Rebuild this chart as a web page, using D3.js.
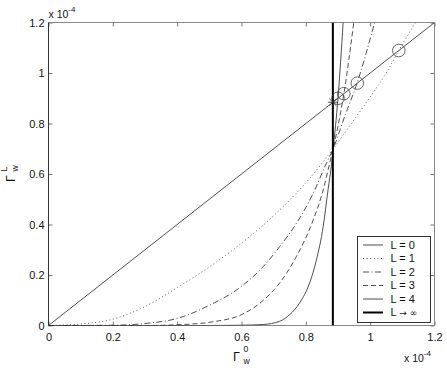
<!DOCTYPE html>
<html><head><meta charset="utf-8">
<script src="https://cdn.jsdelivr.net/npm/d3@7"></script>
<style>
html,body{margin:0;padding:0;background:#fff;}
svg{display:block;font-family:"Liberation Sans",Arial,Helvetica,sans-serif;}
</style></head>
<body><svg id="c" width="447" height="368"></svg>
<script>
// ---- data (units of 1e-4) ----
const xTicks = [0, 0.2, 0.4, 0.6, 0.8, 1, 1.2];
const yTicks = [0, 0.2, 0.4, 0.6, 0.8, 1, 1.2];
const fixedPoint = 0.884;
const l0X = [0, 1.2];
const l0Y = [0, 1.2];
const l1X = [0, 0.1, 0.2, 0.3, 0.4, 0.5, 0.6, 0.7, 0.8, 0.885, 0.95, 1.0, 1.05, 1.089, 1.141];
const l1Y = [0, 0.006, 0.025, 0.075, 0.15, 0.232, 0.326, 0.435, 0.565, 0.70, 0.815, 0.905, 1.0, 1.089, 1.2];
const l2X = [0, 0.2, 0.3, 0.4, 0.5, 0.6, 0.668, 0.719, 0.771, 0.823, 0.864, 0.885, 0.92, 0.96, 1.014];
const l2Y = [0, 0.001, 0.008, 0.028, 0.08, 0.155, 0.234, 0.313, 0.405, 0.524, 0.643, 0.70, 0.825, 0.963, 1.2];
const l3X = [0, 0.3, 0.4, 0.513, 0.6, 0.668, 0.719, 0.771, 0.823, 0.854, 0.874, 0.885, 0.9, 0.918, 0.949];
const l3Y = [0, 0, 0.003, 0.015, 0.043, 0.1, 0.169, 0.274, 0.418, 0.537, 0.642, 0.70, 0.79, 0.916, 1.2];
const l4X = [0, 0.5, 0.6, 0.668, 0.719, 0.75, 0.781, 0.812, 0.833, 0.854, 0.869, 0.88, 0.885, 0.90, 0.916];
const l4Y = [0, 0, 0.001, 0.004, 0.017, 0.043, 0.09, 0.169, 0.26, 0.392, 0.537, 0.64, 0.70, 0.90, 1.2];
const crossX = [1.089, 0.96, 0.918, 0.90];
const legendLabels = ["L = 0", "L = 1", "L = 2", "L = 3", "L = 4", "L \u2192 \u221e"];

// ---- layout ----
const svg = d3.select("#c");
const x = d3.scaleLinear().domain([0, 1.2]).range([48.5, 434.5]);
const y = d3.scaleLinear().domain([0, 1.2]).range([325.5, 22.5]);
const lineW = 0.8;

const styles = [
  {dash: null, w: lineW, c: "#222"},
  {dash: "1,2.6", w: lineW, c: "#333"},
  {dash: "6,2.5,1,2.5", w: lineW, c: "#222"},
  {dash: "5,3", w: lineW, c: "#222"},
  {dash: null, w: lineW, c: "#222"},
  {dash: null, w: 2, c: "#000"}
];

svg.append("clipPath").attr("id","pc").append("rect")
  .attr("x", x(0)).attr("y", y(1.2)).attr("width", x(1.2)-x(0)).attr("height", y(0)-y(1.2));

// axes
const fmt = d => d3.format("~g")(d);
const gB = svg.append("g").attr("transform", `translate(0,${y(0)})`)
  .call(d3.axisBottom(x).tickValues(xTicks).tickFormat(fmt).tickSizeInner(-4).tickSizeOuter(0).tickPadding(8));
const gT = svg.append("g").attr("transform", `translate(0,${y(1.2)})`)
  .call(d3.axisTop(x).tickValues(xTicks).tickFormat("").tickSizeInner(-4).tickSizeOuter(0));
const gL = svg.append("g").attr("transform", `translate(${x(0)},0)`)
  .call(d3.axisLeft(y).tickValues(yTicks).tickFormat(fmt).tickSizeInner(-4).tickSizeOuter(0).tickPadding(4));
const gR = svg.append("g").attr("transform", `translate(${x(1.2)},0)`)
  .call(d3.axisRight(y).tickValues(yTicks).tickFormat("").tickSizeInner(-4).tickSizeOuter(0));
[gB, gT, gL, gR].forEach(g => {
  g.select(".domain").remove();
  g.selectAll(".tick line").attr("stroke", "#777");
  g.selectAll("text").attr("font-size", 11).attr("fill", "#111").attr("font-family", "Liberation Sans, Arial, sans-serif");
});
gB.selectAll(".tick text").attr("y", 8);
// box
svg.append("line").attr("x1", x(0)).attr("x2", x(1.2)).attr("y1", y(1.2)).attr("y2", y(1.2)).attr("stroke", "#888");
svg.append("line").attr("x1", x(1.2)).attr("x2", x(1.2)).attr("y1", y(0)).attr("y2", y(1.2)).attr("stroke", "#888");
svg.append("line").attr("x1", x(0)).attr("x2", x(1.2)).attr("y1", y(0)).attr("y2", y(0)).attr("stroke", "#888");
svg.append("line").attr("x1", x(0)).attr("x2", x(0)).attr("y1", y(0)).attr("y2", y(1.2)).attr("stroke", "#333");

// curves
const plot = svg.append("g").attr("clip-path", "url(#pc)");
const series = [[l0X,l0Y],[l1X,l1Y],[l2X,l2Y],[l3X,l3Y],[l4X,l4Y]];
const line = d3.line().x(d => x(d[0])).y(d => y(d[1])).curve(d3.curveMonotoneX);
series.forEach((s, i) => {
  const pts = s[0].map((v, j) => [v, s[1][j]]);
  plot.append("path").attr("d", line(pts)).attr("fill", "none")
    .attr("stroke", styles[i].c).attr("stroke-width", styles[i].w)
    .attr("stroke-dasharray", styles[i].dash);
});
// L -> infinity
plot.append("line").attr("x1", x(fixedPoint)).attr("x2", x(fixedPoint))
  .attr("y1", y(0)).attr("y2", y(1.2)).attr("stroke", "#000").attr("stroke-width", 2);

// circles at crossings with the diagonal
plot.selectAll("circle.cr").data(crossX).join("circle")
  .attr("cx", d => x(d)).attr("cy", d => y(d)).attr("r", 6.3)
  .attr("fill", "none").attr("stroke", "#444").attr("stroke-width", 0.8);

// asterisk at fixed point
const ax = x(fixedPoint), ay = y(fixedPoint), a = 5, b = 3.6;
const star = svg.append("g").attr("stroke", "#222").attr("stroke-width", 0.8);
[[-a,0,a,0],[0,-a,0,a],[-b,-b,b,b],[-b,b,b,-b]].forEach(s =>
  star.append("line").attr("x1", ax+s[0]).attr("y1", ay+s[1]).attr("x2", ax+s[2]).attr("y2", ay+s[3]));

// exponent labels
function expLabel(px, py) {
  const t = svg.append("text").attr("x", px).attr("y", py).attr("font-size", 10.5).attr("fill", "#111");
  t.append("tspan").text("x 10");
  t.append("tspan").attr("dy", -6).attr("font-size", 8).text("-4");
}
expLabel(x(0), 18);
expLabel(404, 362);

// x label
svg.append("text").attr("x", 233).attr("y", 361).attr("font-size", 12.5).attr("fill", "#111").text("\u0393");
svg.append("text").attr("x", 243.5).attr("y", 352).attr("font-size", 8.5).attr("fill", "#111").text("0");
svg.append("text").attr("x", 243.5).attr("y", 364).attr("font-size", 8.5).attr("fill", "#111").text("w");

// y label
const yl = svg.append("g").attr("transform", `translate(15,${(y(0)+y(1.2))/2}) rotate(-90)`);
yl.append("text").attr("x", -8).attr("y", 0).attr("font-size", 12.5).attr("fill", "#111").text("\u0393");
yl.append("text").attr("x", 2.5).attr("y", -8).attr("font-size", 8.5).attr("fill", "#111").text("L");
yl.append("text").attr("x", 2.5).attr("y", 3).attr("font-size", 8.5).attr("fill", "#111").text("w");

// legend
const lg = svg.append("g");
lg.append("rect").attr("x", 357.5).attr("y", 236.5).attr("width", 73).attr("height", 86)
  .attr("fill", "#fff").attr("stroke", "#000").attr("stroke-width", 0.8);
legendLabels.forEach((lab, i) => {
  const cy = 245 + i * 13.5;
  lg.append("line").attr("x1", 363).attr("x2", 383).attr("y1", cy).attr("y2", cy)
    .attr("stroke", styles[i].c).attr("stroke-width", styles[i].w).attr("stroke-dasharray", styles[i].dash);
  const t = lg.append("text").attr("x", 390.5).attr("y", cy).attr("dy", "0.36em")
    .attr("font-size", 11).attr("fill", "#111");
  if (i === 5) {
    const parts = lab.split(" ");
    t.append("tspan").text(parts[0] + " ");
    t.append("tspan").attr("font-size", 9).attr("fill", "#111")
      .attr("font-family", "DejaVu Sans, sans-serif").text(parts.slice(1).join(" "));
  } else t.text(lab);
});
</script></body></html>
